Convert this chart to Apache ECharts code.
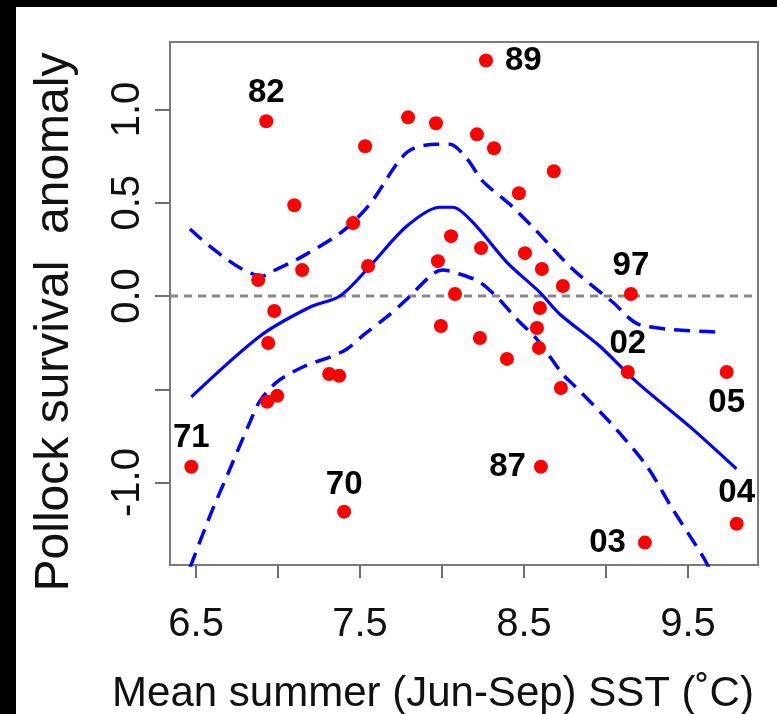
<!DOCTYPE html>
<html>
<head>
<meta charset="utf-8">
<script src="https://cdn.jsdelivr.net/npm/echarts@6/dist/echarts.min.js"></script>
<style>
html,body{margin:0;padding:0;background:#fff;}
#chart{width:777px;height:714px;}
</style>
</head>
<body>
<div id="chart"></div>
<script>
// ---- data ----
const sstValues = [6.471, 6.928, 6.879, 6.977, 6.940, 6.934, 6.995, 7.099, 7.147, 7.312, 7.373, 7.403, 7.458, 7.531, 7.549, 7.793, 7.963, 7.975, 7.993, 8.055, 8.079, 8.268, 8.213, 8.317, 8.238, 8.231, 8.396, 8.469, 8.506, 8.682, 8.609, 8.597, 8.579, 8.591, 8.737, 8.725, 8.603, 9.152, 9.133, 9.237, 9.736, 9.797];
const anomalyValues = [-0.915, 0.937, 0.086, -0.080, -0.252, -0.567, -0.535, 0.487, 0.139, -0.418, -0.428, -1.156, 0.391, 0.803, 0.161, 0.958, 0.926, 0.187, -0.161, 0.321, 0.011, 1.263, 0.867, 0.792, 0.257, -0.225, -0.337, 0.551, 0.230, 0.669, 0.145, -0.064, -0.171, -0.278, 0.054, -0.493, -0.915, 0.011, -0.407, -1.322, -0.407, -1.221];
const pointLabels = ['71', '82', '', '', '', '', '', '', '', '', '', '70', '', '', '', '', '', '', '', '', '', '89', '', '', '', '', '', '', '', '', '', '', '', '', '', '', '87', '97', '02', '03', '05', '04'];

const fitX = [6.471, 6.891, 7.196, 7.378, 7.561, 7.786, 7.986, 8.065, 8.187, 8.394, 8.595, 8.717, 8.961, 9.186, 9.527, 9.795];
const fitY = [-0.541, -0.214, -0.059, 0.0, 0.161, 0.375, 0.476, 0.476, 0.396, 0.182, 0.021, -0.096, -0.268, -0.460, -0.712, -0.926];

const upperX = [6.463, 6.902, 6.969, 7.152, 7.395, 7.560, 7.786, 7.968, 8.048, 8.150, 8.248, 8.412, 8.577, 8.796, 9.040, 9.210, 9.710];
const upperY = [0.359, 0.107, 0.134, 0.214, 0.348, 0.493, 0.771, 0.814, 0.814, 0.739, 0.616, 0.493, 0.348, 0.145, -0.032, -0.155, -0.193];

const lowerX = [6.463, 6.585, 6.707, 6.829, 6.890, 6.994, 7.164, 7.316, 7.420, 7.529, 7.663, 7.773, 7.943, 8.004, 8.108, 8.230, 8.352, 8.455, 8.577, 8.735, 8.796, 9.022, 9.247, 9.405, 9.588, 9.630];
const lowerY = [-1.456, -1.178, -0.926, -0.675, -0.562, -0.460, -0.375, -0.327, -0.284, -0.203, -0.112, -0.027, 0.118, 0.139, 0.118, 0.075, -0.021, -0.123, -0.230, -0.418, -0.471, -0.675, -0.910, -1.140, -1.392, -1.461];

const xTicks = [6.5, 7.0, 7.5, 8.0, 8.5, 9.0, 9.5];
const xTickLabels = [6.5, 7.5, 8.5, 9.5];
const yTicks = [-1.0, -0.5, 0.0, 0.5, 1.0];
const yTickLabels = [-1.0, 0.0, 0.5, 1.0];
const xRange = [6.341, 9.927];
const yRange = [-1.442, 1.362];
const refLineY = 0;

const xTitle = 'Mean summer (Jun-Sep) SST (\u02DAC)';
const yTitle = 'Pollock survival  anomaly';

// ---- styles ----
const labelStyle = {
  '71': {position: 'top', distance: 5},
  '82': {position: 'top', distance: 5},
  '70': {position: 'top', distance: 3},
  '89': {position: 'right', distance: 12},
  '87': {position: 'left', distance: 8},
  '97': {position: 'top', distance: 5},
  '02': {position: 'top', distance: 5},
  '05': {position: 'bottom', distance: 7},
  '04': {position: 'top', distance: 7},
  '03': {position: 'left', distance: 12}
};
const FONT = 'Liberation Sans, Arial, sans-serif';

const zip = (a, b) => a.map((v, i) => [v, b[i]]);

const pointData = sstValues.map((x, i) => {
  const lab = pointLabels[i];
  const item = {value: [x, anomalyValues[i]]};
  if (lab) {
    item.label = Object.assign({
      show: true, formatter: lab, color: '#000', fontSize: 33, fontWeight: 'bold', fontFamily: FONT
    }, labelStyle[lab]);
  }
  return item;
});

const chart = echarts.init(document.getElementById('chart'), null, {renderer: 'canvas'});
chart.setOption({
  animation: false,
  backgroundColor: '#fff',
  grid: {left: 170, top: 42, right: 19, bottom: 149, show: true, borderColor: '#7a7a7a', borderWidth: 2, backgroundColor: 'transparent'},
  xAxis: {
    type: 'value', min: xRange[0], max: xRange[1],
    splitLine: {show: false},
    axisLine: {show: false, onZero: false},
    axisTick: {show: true, length: 13, customValues: xTicks, lineStyle: {color: '#6e6e6e', width: 2}},
    axisLabel: {customValues: xTickLabels, margin: 40, fontSize: 40, color: '#111', fontFamily: FONT,
      formatter: v => v.toFixed(1)}
  },
  yAxis: {
    type: 'value', min: yRange[0], max: yRange[1],
    splitLine: {show: false},
    axisLine: {show: false, onZero: false},
    axisTick: {show: true, length: 15, customValues: yTicks, lineStyle: {color: '#6e6e6e', width: 2}},
    axisLabel: {customValues: yTickLabels, margin: 22, rotate: 90, fontSize: 40, color: '#111', fontFamily: FONT,
      formatter: v => v.toFixed(1)}
  },
  graphic: [
    {type: 'rect', left: 0, top: 0, shape: {width: 16, height: 714}, style: {fill: '#000'}, z: 100},
    {type: 'rect', left: 0, top: 0, shape: {width: 777, height: 7}, style: {fill: '#000'}, z: 100},
    {type: 'text', x: 433, y: 694, style: {text: xTitle, font: '42px ' + FONT, fill: '#111', textAlign: 'center', textVerticalAlign: 'middle'}},
    {type: 'text', x: 55, y: 322, rotation: Math.PI / 2, style: {text: yTitle, font: '48px ' + FONT, fill: '#111', textAlign: 'center', textVerticalAlign: 'middle'}}
  ],
  series: [
    {type: 'line', data: [[xRange[0], refLineY], [xRange[1], refLineY]], symbol: 'none', silent: true,
      lineStyle: {color: '#888888', width: 3, type: [8, 6]}, z: 1},
    {type: 'line', data: zip(fitX, fitY), symbol: 'none', smooth: 0.3, clip: true,
      lineStyle: {color: '#0000ff', width: 3.2}, z: 3},
    {type: 'line', data: zip(upperX, upperY), symbol: 'none', smooth: 0.3, clip: true,
      lineStyle: {color: '#0000ff', width: 3.5, type: [16, 9]}, z: 3},
    {type: 'line', data: zip(lowerX, lowerY), symbol: 'none', smooth: 0.3, clip: true,
      lineStyle: {color: '#0000ff', width: 3.5, type: [16, 9]}, z: 3},
    {type: 'scatter', data: pointData, symbol: 'circle', symbolSize: 14, clip: false,
      itemStyle: {color: '#ff0000', opacity: 1}, z: 4}
  ]
});
</script>
</body>
</html>
